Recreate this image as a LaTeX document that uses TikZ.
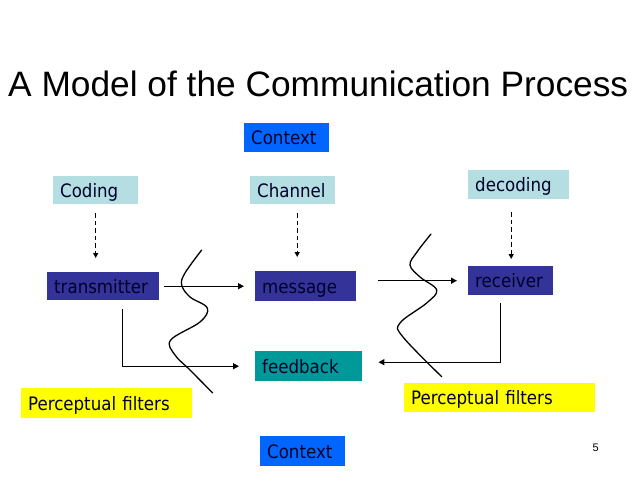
\documentclass[tikz,border=0pt]{standalone}
\usepackage{fontspec}
\setmainfont{Liberation Sans}
\newfontfamily\boxfont{DejaVu Sans Condensed}
\usetikzlibrary{arrows.meta,calc}

\definecolor{contextblue}{RGB}{0, 102, 255}
\definecolor{codingcyan}{RGB}{180, 222, 226}
\definecolor{nodeblue}{RGB}{51, 51, 153}
\definecolor{feedteal}{RGB}{0, 153, 153}
\definecolor{filteryellow}{RGB}{255, 255, 0}
\definecolor{textdark}{RGB}{0, 0, 40}

\begin{document}
\begin{tikzpicture} [
    x=1pt, y=-1pt,
    box/.style={anchor=north west, inner xsep=7pt, inner ysep=0pt, align=left, text height=15pt, text depth=1pt, text=textdark, font=\boxfont\fontsize{18.5}{20}\selectfont},
    dasharrow/.style={line width=1.4pt, dash pattern=on 4.5pt off 3pt, -{Triangle[width=5pt,length=5pt]}},
    flowarrow/.style={line width=1.4pt, -{Triangle[width=6pt,length=6pt]}},
    wave/.style={line width=1.3pt, line cap=round}
  ]

\useasboundingbox (0,0) rectangle (638,479);

% title
\node[anchor=base west, inner sep=0pt, font=\fontsize{35.3}{40}\selectfont] (title) at (8,96) {A Model of the Communication Process};

%boxes
\node[box, fill=contextblue, text width=71pt, minimum height=29pt] (contexttop) at (244,123) {Context};
\node[box, fill=codingcyan, text width=71pt, minimum height=28pt] (coding) at (53,176) {Coding};
\node[box, fill=codingcyan, text width=71pt, minimum height=28pt] (channel) at (250,176) {Channel};
\node[box, fill=codingcyan, text width=87pt, minimum height=29pt] (decoding) at (468,170) {decoding};

\node[box, fill=nodeblue, text width=98pt, minimum height=28pt] (transmitter) at (47,272) {transmitter};
\node[box, fill=nodeblue, text width=87pt, minimum height=30pt] (message) at (255,271) {message};
\node[box, fill=nodeblue, text width=71pt, minimum height=29pt] (receiver) at (468,266) {receiver};
\node[box, fill=feedteal, text width=93pt, minimum height=30pt] (feedback) at (255,351) {feedback};

\node[box, fill=filteryellow, text width=157pt, minimum height=30pt] (filterleft) at (21,388) {Perceptual filters};
\node[box, fill=filteryellow, text width=177pt, minimum height=29pt] (filterright) at (404,383) {Perceptual filters};

\node[box, fill=contextblue, text width=71pt, minimum height=30pt] (contextbottom) at (260,436) {Context};

% page number
\node[anchor=base west, inner sep=0pt, font=\fontsize{11}{12}\selectfont] (pagenum) at (592.5,451) {5};

% coding, channel, decoding
\draw[dasharrow, shorten <=9pt, shorten >=14pt] (coding.south) -- (coding.south |- transmitter.north);
\draw[dasharrow, shorten <=9pt, shorten >=14pt] ([xshift=4.5pt]channel.south) -- ([xshift=4.5pt]channel.south |- message.north);
\draw[dasharrow, shorten <=13pt, shorten >=7pt] ([xshift=-7.5pt]decoding.south) -- ([xshift=-7.5pt]decoding.south |- receiver.north);

% flow
\draw[flowarrow, shorten <=5pt, shorten >=11pt] (transmitter.east) -- (message.west);
\draw[flowarrow, shorten <=22pt, shorten >=11pt] (message.east |- receiver.west) -- (receiver.west);
\draw[flowarrow, shorten <=9pt, shorten >=16pt] ([xshift=19pt]transmitter.south) |- (feedback.west);
\draw[flowarrow, shorten <=8pt, shorten >=16pt] ([xshift=-10.5pt]receiver.south) |- ([yshift=4pt]feedback.east);

% filters (waves)
\draw[wave] plot[smooth, tension=0.6] coordinates {(201.7,250) (185,273) (181.7,285) (190,297) (207.3,308) (200,322) (170.7,340) (175,355) (190,370) (212.7,393)};
\draw[wave] plot[smooth, tension=0.6] coordinates {(431,234) (417,252) (410,265) (420,277) (436.7,290) (426.7,303) (400,323) (403,337) (441.7,376.7)};

\end{tikzpicture}
\end{document}
